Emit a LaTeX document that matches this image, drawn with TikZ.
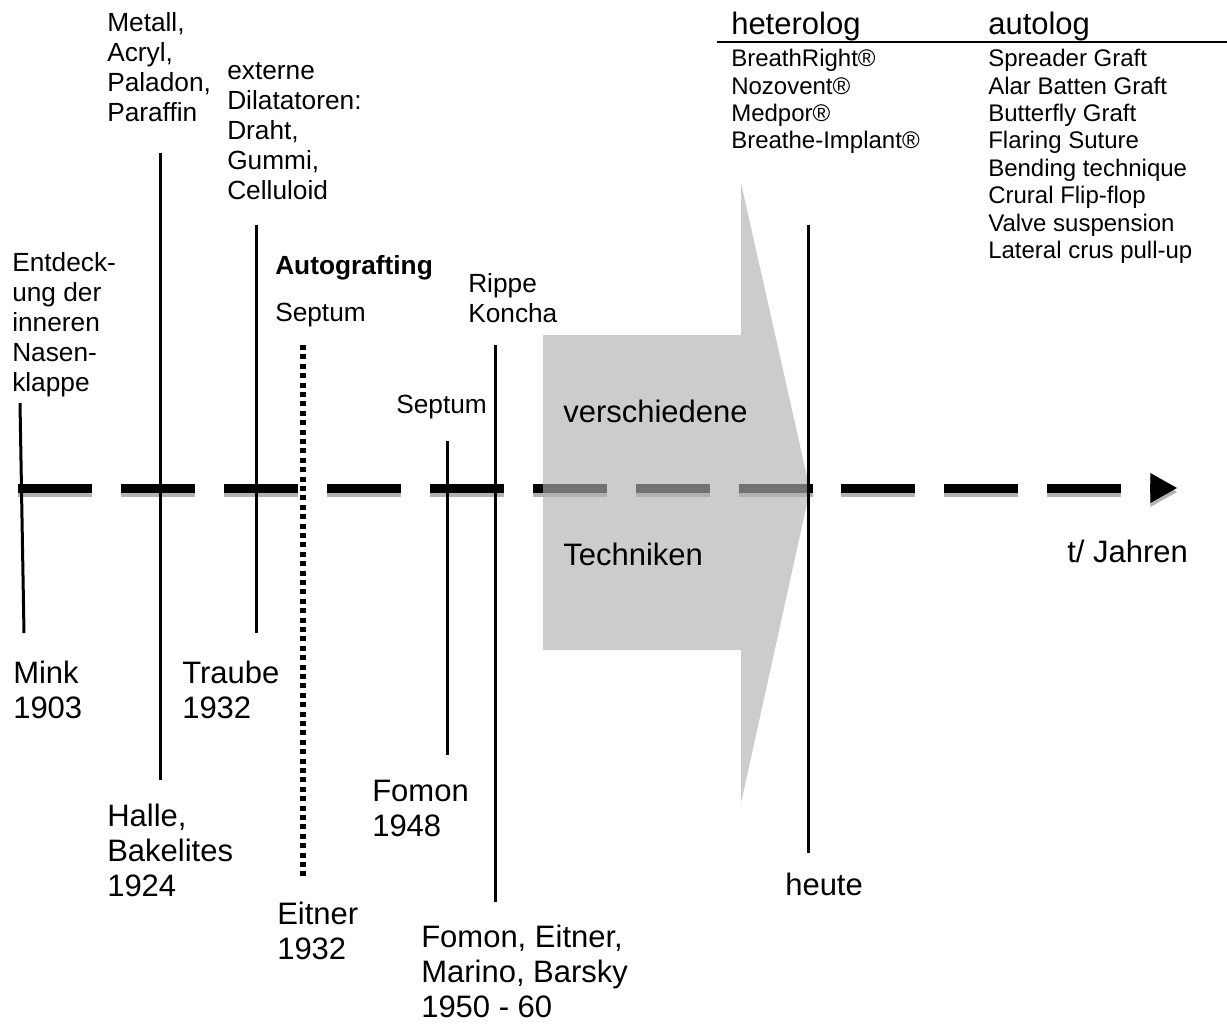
\documentclass[tikz,border=0pt]{standalone}
\usepackage{fontspec}
\setmainfont{Liberation Sans}
\usetikzlibrary{arrows.meta}

\begin{document}
\begin{tikzpicture}[x=0.75pt,y=-0.75pt,
	biglbl/.style={anchor=north west,inner sep=0pt,align=left,font=\fontsize{23.25}{26.25}\selectfont},
	smalllbl/.style={anchor=north west,inner sep=0pt,align=left,font=\fontsize{19.7}{22.5}\selectfont},
	listlbl/.style={anchor=north west,inner sep=0pt,align=left,font=\fontsize{18}{20.55}\selectfont},
	vline/.style={line width=2.25pt},
	tline/.style={line width=6.75pt,dash pattern=on 55.5pt off 21.7pt,-{Triangle[length=20pt,width=22.5pt,line width=0pt]}}]
	
	\useasboundingbox (0,0) rectangle (1227,1025);
	
	% Zeitachse mit Schatten
	\draw[tline,black!30] (18,492) -- (1177,492);
	\draw[tline] (18,488) -- (1177,488);
	
	% grauer Pfeil
	\fill[black!31,fill opacity=0.65] (543,335) -- (741,335) -- (741,183) -- (810,490) -- (741,803) -- (741,650) -- (543,650) -- cycle;
	
	\foreach \xa/\ya/\xb/\yb in {20/403/24/633, 160/153/160/780, 256/225/256/633, 447/441/447/755, 495/345/495/902, 808/225/808/853} {
		\draw[vline] (\xa,\ya) -- (\xb,\yb);
	}
	\draw[line width=4.5pt,dash pattern=on 3.75pt off 3.3pt] (303,345) -- (303,876);
	
	\node[biglbl] (mink) at (13,661) {Mink\\1903};
	\node[biglbl] (traube) at (182,661) {Traube\\1932};
	\node[biglbl] (halle) at (107,804) {Halle,\\Bakelites\\1924};
	\node[biglbl] (eitner) at (277,902) {Eitner\\1932};
	\node[biglbl] (fomon) at (372,780) {Fomon\\1948};
	\node[biglbl] (fomonalle) at (421,925) {Fomon, Eitner,\\Marino, Barsky\\1950 - 60};
	\node[biglbl] (heute) at (785,873) {heute};
	\node[biglbl] (zeit) at (1067,540) {t/ Jahren};
	\node[biglbl] (versch) at (563,400) {verschiedene};
	\node[biglbl] (techn) at (563,543) {Techniken};
	
	\node[smalllbl] (entdeck) at (12,252) {Entdeck-\\ung der\\inneren\\Nasen-\\klappe};
	\node[smalllbl] (metall) at (107,12) {Metall,\\Acryl,\\Paladon,\\Paraffin};
	\node[smalllbl] (extern) at (227,62) {externe\\Dilatatoren:\\Draht,\\Gummi,\\Celluloid};
	\node[smalllbl,font=\fontsize{19.7}{22.5}\selectfont\bfseries] (autograft) at (275,255) {Autografting};
	\node[smalllbl] (septumA) at (275,303) {Septum};
	\node[smalllbl] (septumB) at (396,395) {Septum};
	\node[smalllbl] (rippe) at (468,273) {Rippe\\Koncha};
	
	\node[biglbl] (heterolog) at (731,12) {heterolog};
	\node[biglbl] (autolog) at (988,12) {autolog};
	\draw[line width=1.5pt] (717,42) -- (1227,42);
	\node[listlbl] (hetlist) at (731,49) {BreathRight®\\Nozovent®\\Medpor®\\Breathe-Implant®};
	\node[listlbl] (autlist) at (988,49) {Spreader Graft\\Alar Batten Graft\\Butterfly Graft\\Flaring Suture\\Bending technique\\Crural Flip-flop\\Valve suspension\\Lateral crus pull-up};
	
\end{tikzpicture}
\end{document}
